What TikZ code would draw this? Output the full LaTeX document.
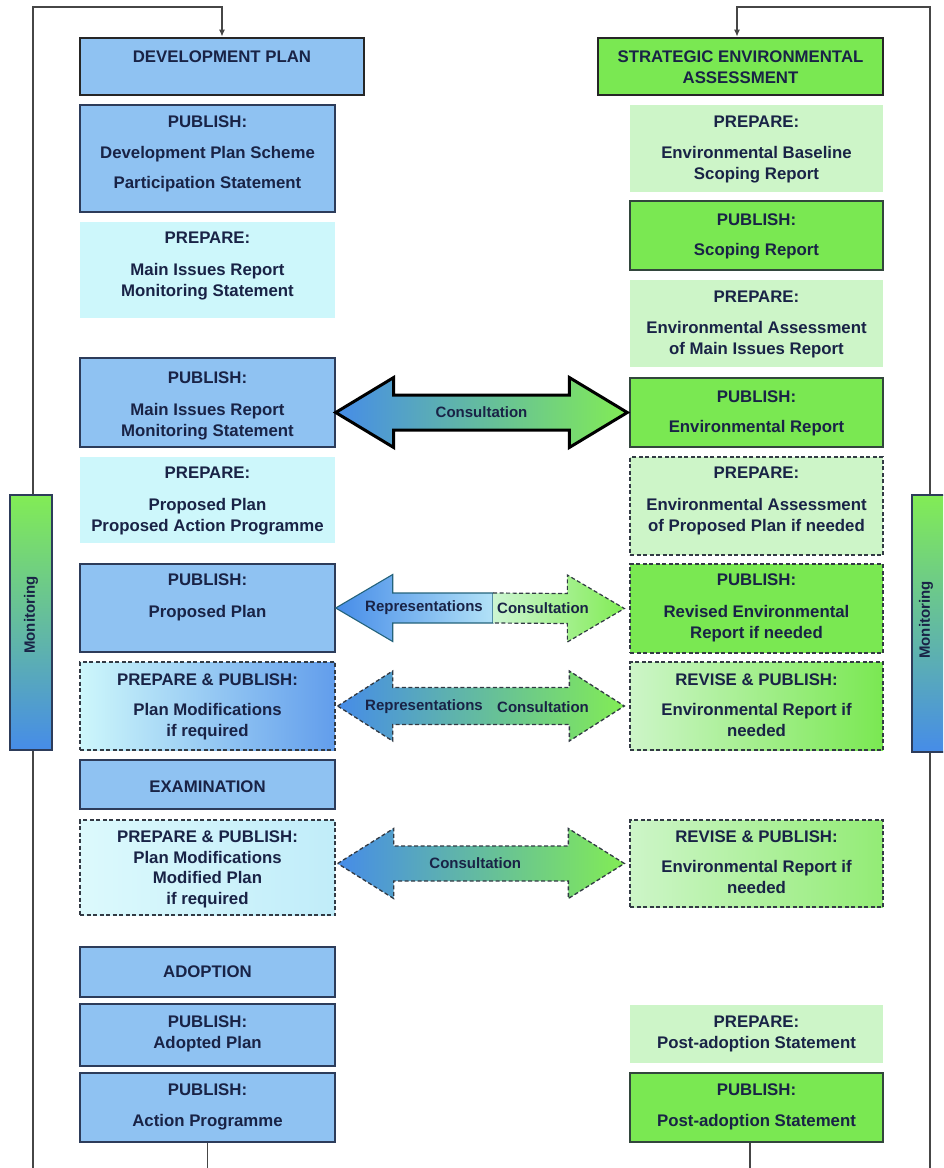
\documentclass[tikz,border=0pt]{standalone}
\usepackage{fontspec}
\setmainfont{Liberation Sans}
\usetikzlibrary{calc,arrows.meta}
\definecolor{blueF}{RGB}{143,194,242}
\definecolor{blueD}{RGB}{45,60,90}
\definecolor{cyanL}{RGB}{205,247,251}
\definecolor{greenF}{RGB}{122,232,82}
\definecolor{greenD}{RGB}{50,70,60}
\definecolor{greenL}{RGB}{205,245,200}
\definecolor{textC}{RGB}{25,35,70}
\definecolor{arrB}{RGB}{70,140,232}
\definecolor{arrG}{RGB}{130,236,85}
\definecolor{dashC}{RGB}{50,58,68}
\definecolor{lineC}{RGB}{70,70,70}
\tikzset{
  box/.style={rectangle, inner sep=0pt, line width=1.4pt},
  bluebox/.style={box, fill=blueF, draw=blueD},
  greenbox/.style={box, fill=greenF, draw=greenD},
  cyanbox/.style={box, fill=cyanL},
  lgreenbox/.style={box, fill=greenL},
  dashbox/.style={box, draw=dashC, line width=1.3pt, dash pattern=on 4pt off 2.5pt},
  headbox/.style={box, line width=2.6pt, draw=black!85},
  txt/.style={inner sep=0pt, align=center, text=textC, font=\fontsize{16.8}{20.5}\selectfont\bfseries},
  atxt/.style={inner sep=0pt, text=textC, font=\fontsize{15}{18}\selectfont\bfseries},
  monbar/.style={rectangle, inner sep=0pt, draw=blueD, line width=1.3pt, top color=arrG, bottom color=arrB},
  loopline/.style={draw=lineC, line width=1.4pt},
  arrowtip/.style={-{Latex[length=7pt,width=6pt]}}
}
\newcommand\blockarrow[6]{%
  \path[#1] (#2) -- ($(#2)+(#4,-#5)$) -- ($(#2)+(#4,-#6)$) -- ($(#3)+(-#4,-#6)$) -- ($(#3)+(-#4,-#5)$) -- (#3) -- ($(#3)+(-#4,#5)$) -- ($(#3)+(-#4,#6)$) -- ($(#2)+(#4,#6)$) -- ($(#2)+(#4,#5)$) -- cycle;}
\begin{document}
\begin{tikzpicture}[x=1pt,y=-1pt]
\useasboundingbox (0,0) rectangle (943,1168);
\clip (0,0) rectangle (943,1168);
\fill[white] (0,0) rectangle (943,1168);

% ---------- left column ----------
\node[bluebox, headbox, minimum width=284pt, minimum height=57pt] (L0) at (222,66.5) {};
\node[txt, anchor=north] (L0t) at (222,51) {DEVELOPMENT PLAN};
\node[bluebox, minimum width=255pt, minimum height=107pt] (L1) at (207.5,158.5) {};
\node[txt, anchor=north] (L1t) at (207.5,116) {PUBLISH:\\[10.5pt]Development Plan Scheme\\[9.5pt]Participation Statement};
\node[cyanbox, minimum width=255pt, minimum height=96pt] (L2) at (207.5,270) {};
\node[txt, anchor=north] (L2t) at (207.5,232) {PREPARE:\\[11.5pt]Main Issues Report\\Monitoring Statement};
\node[bluebox, minimum width=255pt, minimum height=89pt] (L3) at (207.5,402.5) {};
\node[txt, anchor=north] (L3t) at (207.5,372) {PUBLISH:\\[11.5pt]Main Issues Report\\Monitoring Statement};
\node[cyanbox, minimum width=255pt, minimum height=86pt] (L4) at (207.5,500) {};
\node[txt, anchor=north] (L4t) at (207.5,467) {PREPARE:\\[11.5pt]Proposed Plan\\Proposed Action Programme};
\node[bluebox, minimum width=255pt, minimum height=88pt] (L5) at (207.5,608) {};
\node[txt, anchor=north] (L5t) at (207.5,574) {PUBLISH:\\[11.5pt]Proposed Plan};
\node[dashbox, left color=cyanL, right color=arrB!85!white, minimum width=255pt, minimum height=88pt] (L6) at (207.5,706) {};
\node[txt, anchor=north] (L6t) at (207.5,674) {PREPARE \& PUBLISH:\\[9.5pt]Plan Modifications\\if required};
\node[bluebox, minimum width=255pt, minimum height=49pt] (L7) at (207.5,784.5) {};
\node[txt, anchor=north] (L7t) at (207.5,781) {EXAMINATION};
\node[dashbox, left color=cyanL!70!white, right color=cyanL!80!blueF, minimum width=255pt, minimum height=95pt] (L8) at (207.5,867.5) {};
\node[txt, anchor=north] (L8t) at (207.5,831) {PREPARE \& PUBLISH:\\Plan Modifications\\Modified Plan\\if required};
\node[bluebox, minimum width=255pt, minimum height=50pt] (L9) at (207.5,972) {};
\node[txt, anchor=north] (L9t) at (207.5,966) {ADOPTION};
\node[bluebox, minimum width=255pt, minimum height=62pt] (L10) at (207.5,1035) {};
\node[txt, anchor=north] (L10t) at (207.5,1016) {PUBLISH:\\Adopted Plan};
\node[bluebox, minimum width=255pt, minimum height=69pt] (L11) at (207.5,1107.5) {};
\node[txt, anchor=north] (L11t) at (207.5,1084) {PUBLISH:\\[10.5pt]Action Programme};

% ---------- right column ----------
\node[greenbox, headbox, minimum width=285pt, minimum height=57pt] (R0) at (740.5,66.5) {};
\node[txt, anchor=north] (R0t) at (740.5,51) {STRATEGIC ENVIRONMENTAL\\ASSESSMENT};
\node[lgreenbox, minimum width=253pt, minimum height=87pt] (R1) at (756.5,148.5) {};
\node[txt, anchor=north] (R1t) at (756.5,116) {PREPARE:\\[10.5pt]Environmental Baseline\\Scoping Report};
\node[greenbox, minimum width=253pt, minimum height=69pt] (R2) at (756.5,235.5) {};
\node[txt, anchor=north] (R2t) at (756.5,214) {PUBLISH:\\[9.5pt]Scoping Report};
\node[lgreenbox, minimum width=253pt, minimum height=87pt] (R3) at (756.5,323.5) {};
\node[txt, anchor=north] (R3t) at (756.5,291) {PREPARE:\\[10.5pt]Environmental Assessment\\of Main Issues Report};
\node[greenbox, minimum width=253pt, minimum height=69pt] (R4) at (756.5,412.5) {};
\node[txt, anchor=north] (R4t) at (756.5,391) {PUBLISH:\\[9.5pt]Environmental Report};
\node[dashbox, fill=greenL, minimum width=253pt, minimum height=98pt] (R5) at (756.5,506) {};
\node[txt, anchor=north] (R5t) at (756.5,467) {PREPARE:\\[11.5pt]Environmental Assessment\\of Proposed Plan if needed};
\node[dashbox, fill=greenF, minimum width=253pt, minimum height=89pt] (R6) at (756.5,608.5) {};
\node[txt, anchor=north] (R6t) at (756.5,574) {PUBLISH:\\[11.5pt]Revised Environmental\\Report if needed};
\node[dashbox, left color=greenL, right color=greenF, minimum width=253pt, minimum height=88pt] (R7) at (756.5,706) {};
\node[txt, anchor=north] (R7t) at (756.5,674) {REVISE \& PUBLISH:\\[9.5pt]Environmental Report if\\needed};
\node[dashbox, left color=greenL, right color=greenF!70!greenL, minimum width=253pt, minimum height=87pt] (R8) at (756.5,863.5) {};
\node[txt, anchor=north] (R8t) at (756.5,831) {REVISE \& PUBLISH:\\[9.5pt]Environmental Report if\\needed};
\node[lgreenbox, minimum width=253pt, minimum height=58pt] (R9) at (756.5,1034) {};
\node[txt, anchor=north] (R9t) at (756.5,1016) {PREPARE:\\Post-adoption Statement};
\node[greenbox, minimum width=253pt, minimum height=69pt] (R10) at (756.5,1107.5) {};
\node[txt, anchor=north] (R10t) at (756.5,1084) {PUBLISH:\\[10.5pt]Post-adoption Statement};

% ---------- loop lines ----------
\coordinate (botL) at (33,1170);
\coordinate (topL) at (33,7);
\coordinate (botR) at (930,1170);
\coordinate (topR) at (930,7);
\draw[loopline, arrowtip] (botL) -- (topL) -| (L0.north);
\draw[loopline, arrowtip] (botR) -- (topR) -| ($(R0.north)+(-3.5,0)$);
\coordinate (endL) at (L11.south |- botL);
\coordinate (rOut) at ($(R10.south)+(-6.5,0)$);
\coordinate (endR) at (rOut |- botR);
\draw[loopline] (L11.south) -- (endL);
\draw[loopline] (rOut) -- (endR);

% ---------- monitoring bars ----------
\node[monbar, minimum width=42pt, minimum height=255pt] (monL) at (31,622.5) {};
\node[atxt, rotate=90] (monLt) at (31,615) {Monitoring};
\node[monbar, minimum width=42pt, minimum height=257pt] (monR) at (933,623.5) {};
\node[atxt, rotate=90] (monRt) at (926,620) {Monitoring};

% ---------- arrow 1 ----------
\coordinate (a1L) at (L3.east |- R4.west);
\coordinate (a1R) at ($(R4.west)+(-2,0)$);
\blockarrow{draw=black, line width=3pt, left color=arrB, right color=arrG}{a1L}{a1R}{58}{35}{17.5}
\node[atxt] (a1t) at ($(a1L)!0.5!(a1R)$) {Consultation};

% ---------- arrow 2 ----------
\coordinate (a2L) at (L5.east);
\coordinate (a2R) at ($(R6.west)+(-5,0)$);
\coordinate (a2D) at (493,608);
\path[draw=blueD!80!cyan, line width=1.1pt, left color=arrB, right color=cyanL!80!arrB]
  (a2L) -- ($(a2L)+(57,-33.5)$) -- ($(a2L)+(57,-15)$) -- ($(a2D)+(0,-15)$) -- ($(a2D)+(0,15)$) -- ($(a2L)+(57,15)$) -- ($(a2L)+(57,33.5)$) -- cycle;
\path[draw=dashC, line width=1.2pt, dash pattern=on 4pt off 2.5pt, left color=greenL!80!cyanL, right color=arrG]
  ($(a2D)+(0,-15)$) -- ($(a2R)+(-57,-15)$) -- ($(a2R)+(-57,-33.5)$) -- (a2R) -- ($(a2R)+(-57,33.5)$) -- ($(a2R)+(-57,15)$) -- ($(a2D)+(0,15)$);
\node[atxt] (a2t1) at ($(a2D)+(-69,0)$) {Representations};
\node[atxt] (a2t2) at ($(a2D)+(50,0)$) {Consultation};

% ---------- arrow 3 ----------
\coordinate (a3L) at ($(L6.east)+(2,0)$);
\coordinate (a3R) at ($(R7.west)+(-5,0)$);
\blockarrow{draw=dashC, line width=1.3pt, dash pattern=on 4pt off 2.5pt, left color=arrB, right color=arrG}{a3L}{a3R}{55}{35}{18.5}
\node[atxt] (a3t1) at (424,707) {Representations};
\node[atxt] (a3t2) at (543,707) {Consultation};

% ---------- arrow 4 ----------
\coordinate (a4L) at ($(L8.east |- R8.west)+(2,0)$);
\coordinate (a4R) at ($(R8.west)+(-5,0)$);
\blockarrow{draw=dashC, line width=1.3pt, dash pattern=on 4pt off 2.5pt, left color=arrB, right color=arrG}{a4L}{a4R}{56}{35}{17.5}
\node[atxt] (a4t) at ($(a4L)!0.48!(a4R)$) {Consultation};
\end{tikzpicture}
\end{document}
